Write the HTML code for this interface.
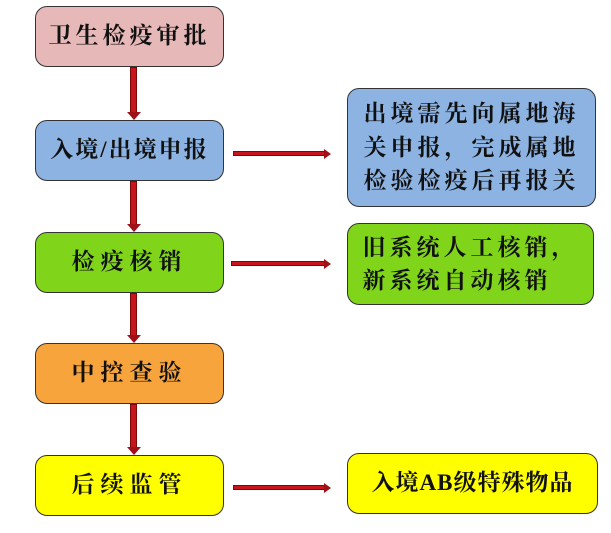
<!DOCTYPE html>
<html><head><meta charset="utf-8"><style>
body{margin:0;width:611px;height:533px;background:#fff;position:relative;overflow:hidden;font-family:"Liberation Serif","Noto Serif CJK SC",serif;font-weight:bold;color:#111}
.b{position:absolute;box-sizing:border-box;border:1.5px solid #333;border-radius:12px;display:flex;align-items:center;justify-content:center;text-align:center;font-size:23px;line-height:1.4;letter-spacing:4px}
.v{position:absolute;width:7px;background:#c8141c;border:1px solid #7a0a0a;box-sizing:border-box}
.vh{position:absolute;width:0;height:0;border-left:7px solid transparent;border-right:7px solid transparent;border-top:8px solid #a01018}
.h{position:absolute;height:5px;background:#c8141c;border:1px solid #7a0a0a;box-sizing:border-box}
.hh{position:absolute;width:0;height:0;border-top:5px solid transparent;border-bottom:5px solid transparent;border-left:7px solid #a01018}
</style></head><body>
<div class="b" style="left:35px;top:6px;width:189px;height:61px;background:#e6b9b8">卫生检疫审批</div>
<div class="b" style="left:35px;top:120px;width:189px;height:61px;background:#8db3e2;letter-spacing:2px">入境/出境申报</div>
<div class="b" style="left:35px;top:232px;width:189px;height:61px;background:#80d41a;letter-spacing:6px">检疫核销</div>
<div class="b" style="left:35px;top:343px;width:189px;height:61px;background:#f8a43c;letter-spacing:6px">中控查验</div>
<div class="b" style="left:35px;top:455px;width:189px;height:61px;background:#ffff00;letter-spacing:6px">后续监管</div>
<div class="b" style="left:347px;top:88px;width:249px;height:119px;background:#8db3e2;font-size:23px;line-height:1.45;letter-spacing:4px">出境需先向属地海<br>关申报，完成属地<br>检验检疫后再报关</div>
<div class="b" style="left:347px;top:223px;width:247px;height:82px;background:#80d41a;font-size:23px;line-height:1.45;letter-spacing:4px;text-align:left">旧系统人工核销，<br>新系统自动核销</div>
<div class="b" style="left:347px;top:453px;width:251px;height:61px;background:#ffff00;font-size:23px;letter-spacing:1px">入境AB级特殊物品</div>
<div class="v" style="left:130px;top:67px;height:46px"></div><div class="vh" style="left:126.5px;top:112px"></div>
<div class="v" style="left:130px;top:181px;height:44px"></div><div class="vh" style="left:126.5px;top:224px"></div>
<div class="v" style="left:130px;top:293px;height:43px"></div><div class="vh" style="left:126.5px;top:335px"></div>
<div class="v" style="left:130px;top:404px;height:44px"></div><div class="vh" style="left:126.5px;top:447px"></div>
<div class="h" style="left:233px;top:151px;width:92px"></div><div class="hh" style="left:324px;top:148.5px"></div>
<div class="h" style="left:231px;top:261px;width:94px"></div><div class="hh" style="left:324px;top:258.5px"></div>
<div class="h" style="left:233px;top:485px;width:92px"></div><div class="hh" style="left:324px;top:482.5px"></div>
</body></html>
